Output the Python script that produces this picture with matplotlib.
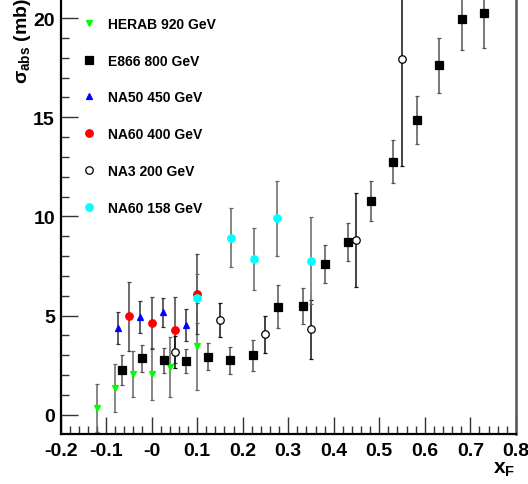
import matplotlib
matplotlib.use("Agg")
import matplotlib.pyplot as plt

plt.rcParams["font.family"] = ["Liberation Sans", "DejaVu Sans"]
plt.rcParams["font.weight"] = "bold"
plt.rcParams["mathtext.fontset"] = "custom"
plt.rcParams["mathtext.rm"] = "Liberation Sans:bold"
plt.rcParams["mathtext.it"] = "Liberation Sans:bold"

# HERAB 920 GeV
herab_x = [-0.12, -0.08, -0.04, 0.0, 0.04, 0.10]
herab_y = [0.35, 1.35, 2.05, 2.05, 2.4, 3.45]
herab_e = [1.2, 1.2, 1.15, 1.3, 1.5, 2.2]

# E866 800 GeV
e866_x = [-0.065, -0.02, 0.027, 0.075, 0.124, 0.173, 0.223, 0.277, 0.332,
          0.381, 0.431, 0.481, 0.531, 0.582, 0.632, 0.681, 0.731]
e866_y = [2.25, 2.84, 2.76, 2.72, 2.93, 2.74, 3.01, 5.45, 5.5,
          7.6, 8.71, 10.78, 12.76, 14.85, 17.62, 19.97, 20.24]
e866_e = [0.75, 0.67, 0.63, 0.6, 0.68, 0.7, 0.78, 1.07, 0.9,
          0.97, 0.97, 1.0, 1.1, 1.22, 1.38, 1.6, 1.74]

# NA50 450 GeV
na50_x = [-0.074, -0.025, 0.026, 0.075]
na50_y = [4.36, 4.94, 5.16, 4.54]
na50_e = [0.8, 0.8, 0.75, 0.8]

# NA60 400 GeV
na60a_x = [-0.05, 0.0, 0.051, 0.10]
na60a_y = [4.96, 4.62, 4.27, 6.09]
na60a_e = [1.75, 1.3, 1.65, 2.0]

# NA3 200 GeV
na3_x = [0.051, 0.150, 0.250, 0.350, 0.449, 0.550]
na3_y = [3.18, 4.78, 4.05, 4.3, 8.79, 17.94]
na3_e = [0.8, 0.85, 0.95, 1.5, 2.37, 5.4]

# NA60 158 GeV
na60b_x = [0.10, 0.174, 0.225, 0.275, 0.350]
na60b_y = [5.87, 8.93, 7.85, 9.9, 7.77]
na60b_e = [1.25, 1.5, 1.55, 1.9, 2.2]

xtick_vals = [-0.2, -0.1, 0.0, 0.1, 0.2, 0.3, 0.4, 0.5, 0.6, 0.7, 0.8]
xtick_labels = ["-0.2", "-0.1", "-0", "0.1", "0.2", "0.3", "0.4", "0.5",
                "0.6", "0.7", "0.8"]
ytick_vals = [0, 5, 10, 15, 20]

series = [
    ("HERAB 920 GeV", herab_x, herab_y, herab_e, "v", "#00ff00", "#00ff00", 5.0, "#666666"),
    ("E866 800 GeV", e866_x, e866_y, e866_e, "s", "black", "black", 5.8, "#555555"),
    ("NA50 450 GeV", na50_x, na50_y, na50_e, "^", "#0000ff", "#0000ff", 5.0, "#333333"),
    ("NA60 400 GeV", na60a_x, na60a_y, na60a_e, "o", "#ff0000", "#ff0000", 5.4, "#444444"),
    ("NA3 200 GeV", na3_x, na3_y, na3_e, "o", "white", "black", 5.4, "#111111"),
    ("NA60 158 GeV", na60b_x, na60b_y, na60b_e, "o", "#00ffff", "#00ffff", 5.4, "#666666"),
]

fig = plt.figure(figsize=(5.28, 4.85), dpi=100)
ax = fig.add_axes([0.1146, 0.103, 0.8624, 0.897])

for label, x, y, e, m, fc, ec, ms, bc in series:
    ax.errorbar(x, y, yerr=e, fmt="none", ecolor=bc, elinewidth=1.1,
                capsize=1.6, capthick=0.9, zorder=2)
for label, x, y, e, m, fc, ec, ms, bc in series:
    ax.plot(x, y, linestyle="none", marker=m, markersize=ms,
            markerfacecolor=fc, markeredgecolor=ec, markeredgewidth=0.9,
            label=label, zorder=3)

ax.set_xlim(-0.2, 0.8)
ax.set_ylim(-0.97, 20.96)
ax.set_xticks(xtick_vals)
ax.set_xticklabels(xtick_labels)
ax.set_xticks([v / 50 for v in range(-10, 41)], minor=True)
ax.set_yticks(ytick_vals)
ax.set_yticks(list(range(0, 21)), minor=True)
ax.tick_params(which="both", direction="in", labelsize=14, width=1, color="#333333")
ax.tick_params(which="major", length=12, pad=6)
ax.tick_params(which="minor", length=6)
ax.tick_params(axis="y", pad=4)
for lab in ax.get_xticklabels() + ax.get_yticklabels():
    lab.set_fontweight("bold")

ax.spines["top"].set_visible(False)
for s in ("left", "bottom"):
    ax.spines[s].set_linewidth(1.6)
ax.spines["right"].set_linewidth(1.8)
ax.spines["right"].set_color("#555555")

leg = ax.legend(loc="upper left", bbox_to_anchor=(0.035, 0.972), frameon=False,
                handlelength=1.0, handletextpad=0.9, labelspacing=1.64,
                prop={"size": 10, "weight": "bold"}, borderaxespad=0.0)

fig.text(0.043, 1.005, r"$\sigma_{abs}$ (mb)", rotation=90, ha="center",
         va="top", fontsize=14, fontweight="bold")
fig.text(0.955, 0.012, r"x$_{\rm F}$", ha="center", va="bottom",
         fontsize=15, fontweight="bold")

fig.savefig("out.png", dpi=100)
